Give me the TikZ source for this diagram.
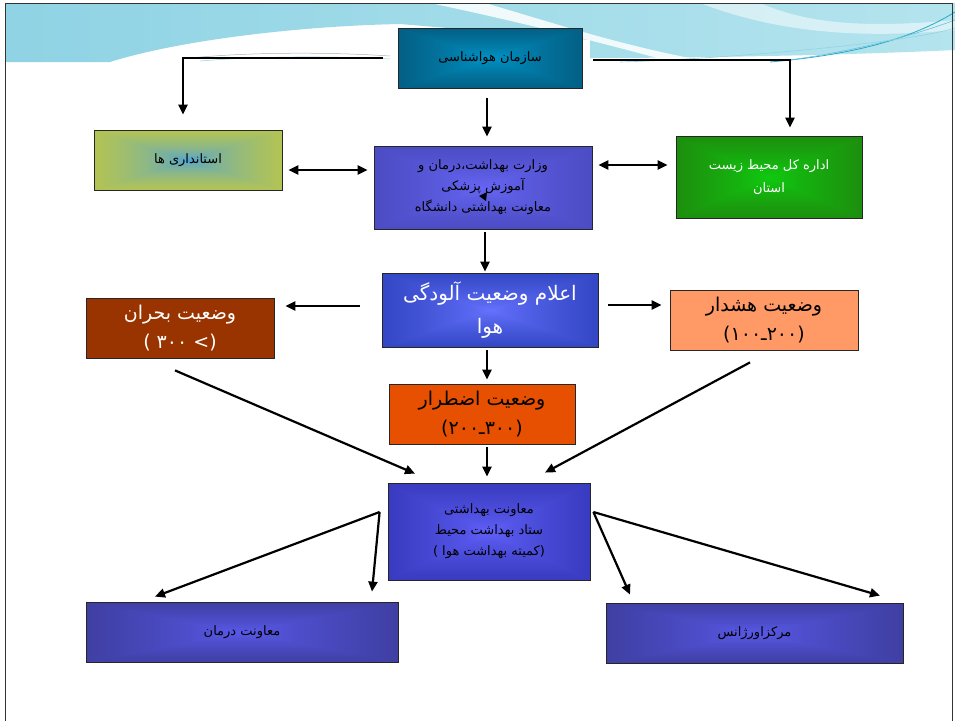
\documentclass[tikz,border=0pt]{standalone}
\usepackage{fontspec}
\newfontfamily\fa[Script=Arabic]{DejaVu Sans}
\newfontfamily\lat{DejaVu Sans}
\TeXXeTstate=1
\usetikzlibrary{arrows.meta,calc}
\newcommand\RL[1]{\beginR #1\endR}
% rectangular fade shading: name, inner rgb, outer rgb, exponent
\newcommand\mkshade[8]{%
 \pgfdeclarefunctionalshading{#1}{\pgfpoint{-50bp}{-50bp}}{\pgfpoint{50bp}{50bp}}{}{%
 abs exch abs 2 copy lt {exch} if pop 50 div #8 exp dup 1 exch sub
 1 index #5 mul 1 index #2 mul add
 2 index #6 mul 2 index #3 mul add
 3 index #7 mul 3 index #4 mul add
 5 -2 roll pop pop}}
\mkshade{shSaz}{0.00}{0.58}{0.78}{0.02}{0.22}{0.33}{0.8}
\mkshade{shOst}{0.25}{0.62}{0.92}{0.89}{0.83}{0.08}{0.5}
\mkshade{shVez}{0.40}{0.40}{0.96}{0.22}{0.22}{0.62}{0.8}
\mkshade{shEda}{0.06}{0.80}{0.06}{0.15}{0.38}{0.05}{0.8}
\mkshade{shEla}{0.40}{0.45}{1.00}{0.05}{0.15}{0.60}{0.8}
\mkshade{shMoa}{0.38}{0.38}{0.98}{0.10}{0.12}{0.58}{0.8}
\mkshade{shLow}{0.35}{0.35}{0.92}{0.17}{0.17}{0.43}{0.8}
\definecolor{bandA}{HTML}{8FD3E4}
\definecolor{bandB}{HTML}{B4E4EE}
\definecolor{swoosh}{HTML}{2AA8C8}
\definecolor{bohranC}{HTML}{993300}
\definecolor{hoshdarC}{HTML}{FF9966}
\definecolor{ezterarC}{HTML}{E65000}
\tikzset{
 box/.style={draw=black!85, line width=0.8pt, inner sep=2pt, align=center, text=black},
 small/.style={font=\fa\fontsize{13}{21}\selectfont},
 big/.style={font=\fa\fontsize{19}{29}\selectfont},
 arr/.style={line width=2.2pt, -{Triangle[length=10pt,width=9pt]}},
 dbl/.style={line width=2.2pt, {Triangle[length=10pt,width=9pt]}-{Triangle[length=10pt,width=9pt]}},
}
\begin{document}
\begin{tikzpicture}[x=1pt,y=-1pt]
\useasboundingbox (0,0) rectangle (955,720);
\fill[white] (0,0) rectangle (955,720);
% top decoration
\shade[left color=bandA, right color=bandB]
 (5,3) -- (955,3) -- (955,50) .. controls (850,55) and (700,58) .. (590,58)
 -- (590,40) -- (400,24) .. controls (300,26) and (180,40) .. (110,62) -- (5,62) -- cycle;
\fill[white, opacity=0.85] (430,3) -- (485,3) .. controls (560,25) and (620,45) .. (700,60)
 -- (665,60) .. controls (590,40) and (520,22) .. (430,3) -- cycle;
\fill[white, opacity=0.5] (700,3) -- (760,3) .. controls (800,20) and (850,30) .. (955,20)
 -- (955,30) .. controls (850,40) and (770,30) .. (700,3) -- cycle;
\draw[swoosh, line width=0.8pt] (770,62) .. controls (850,55) and (910,40) .. (955,12);
\draw[swoosh!70, line width=0.6pt] (790,60) .. controls (860,50) and (915,35) .. (955,20);
\draw[swoosh!50, line width=0.6pt] (620,62) .. controls (700,60) and (900,45) .. (955,28);
\draw[black!30, line width=0.5pt] (190,58) .. controls (250,52) and (330,52) .. (390,56);
\draw[bandA, line width=0.5pt] (200,61) .. controls (260,56) and (330,56) .. (390,59);
% frame
\draw[black!80, line width=0.8pt] (5,725) -- (5,3) -- (952,3) -- (952,725);

% nodes
\node[box,small,shade,shading=shSaz,minimum width=184pt,minimum height=60pt] (sazman) at (490,58) {\RL{سازمان هواشناسی}};
\node[box,small,shade,shading=shOst,minimum width=188pt,minimum height=60pt] (ostandari) at (188,160) {\RL{استانداری ها}};
\node[box,small,shade,shading=shVez,minimum width=218pt,minimum height=83pt] (vezarat) at (483,187.5)
 {\RL{وزارت بهداشت،درمان و}\\\RL{آموزش پزشکی}\\\RL{معاونت بهداشتی دانشگاه}};
\node[box,small,shade,shading=shEda,text=white,minimum width=186pt,minimum height=82pt,font=\fa\fontsize{13}{23}\selectfont] (edare) at (769,177)
 {\RL{اداره کل محیط زیست}\\\RL{استان}};
\node[box,big,fill=bohranC,text=white,minimum width=188pt,minimum height=60pt] (bohran) at (180,328)
 {\RL{وضعیت بحران}\\\beginL{\lat(} \hbox{۳۰۰} {\lat<)}\endL};
\node[box,shade,shading=shEla,text=white,minimum width=216pt,minimum height=74pt,font=\fa\fontsize{20}{33}\selectfont] (elam) at (490,310)
 {\RL{اعلام وضعیت آلودگی}\\\RL{هوا}};
\node[box,big,fill=hoshdarC,minimum width=188pt,minimum height=60pt] (hoshdar) at (764,320)
 {\RL{وضعیت هشدار}\\\beginL{\lat(}\hbox{۱۰۰}\hbox{ـ}\hbox{۲۰۰}{\lat)}\endL};
\node[box,big,fill=ezterarC,minimum width=186pt,minimum height=60pt] (ezterar) at (482,414)
 {\RL{وضعیت اضطرار}\\\beginL{\lat(}\hbox{۲۰۰}\hbox{ـ}\hbox{۳۰۰}{\lat)}\endL};
\node[box,small,shade,shading=shMoa,minimum width=202pt,minimum height=97pt] (moavenat) at (489,531.5)
 {\RL{معاونت بهداشتی}\\\RL{ستاد بهداشت محیط}\\\beginL{\lat(}\beginR کمیته بهداشت هوا \endR{\lat )}\endL};
\node[box,small,shade,shading=shLow,minimum width=312pt,minimum height=60pt] (darman) at (242,632) {\RL{معاونت درمان}};
\node[box,small,shade,shading=shLow,minimum width=297pt,minimum height=60pt] (markaz) at (754.5,633) {\RL{مرکزاورژانس}};

% connectors
\draw[arr] ($(sazman.west)+(-15,0)$) -| ($(ostandari.north)+(-5,-15)$);
\draw[arr] ($(sazman.east)+(11,2)$) -| ($(edare.north)+(21,-8)$);
\draw[arr] ($(sazman.south)+(-3,10)$) -- ($(vezarat.north)+(4,-9)$);
\draw[dbl] ($(ostandari.east)+(6,10)$) -- ($(vezarat.west)+(-6,-17.5)$);
\draw[dbl] ($(vezarat.east)+(6,-22.5)$) -- ($(edare.west)+(-8,-12)$);
\fill (479,196) -- (487,192) -- (486,201) -- cycle;
\draw[arr] ($(vezarat.south)+(2,3)$) -- ($(elam.north)+(-5,-1)$);
\draw[arr] ($(elam.west)+(-22,-4)$) -- ($(bohran.east)+(11,-22)$);
\draw[arr] ($(elam.east)+(10,-5)$) -- ($(hoshdar.west)+(-8,-15)$);
\draw[arr] ($(elam.south)+(-3,3)$) -- ($(ezterar.north)+(5,-4)$);
\draw[arr] ($(ezterar.south)+(5,3)$) -- ($(moavenat.north)+(-2,-6)$);
\draw[arr] ($(bohran.south)+(-5,12)$) -- ($(moavenat.north)+(-74,-9)$);
\draw[arr] ($(hoshdar.south)+(-14,12)$) -- ($(moavenat.north)+(56,-10)$);
\coordinate (fanL) at ($(moavenat.west)+(-8,-19.5)$);
\coordinate (fanR) at ($(moavenat.east)+(3,-19.5)$);
\draw[arr] (fanL) -- ($(darman.north)+(-87,-5)$);
\draw[arr] (fanL) -- ($(darman.north)+(130,-10)$);
\draw[arr] (fanR) -- ($(markaz.north)+(-124.5,-8)$);
\draw[arr] (fanR) -- ($(markaz.north)+(125.5,-7)$);
\end{tikzpicture}
\end{document}
